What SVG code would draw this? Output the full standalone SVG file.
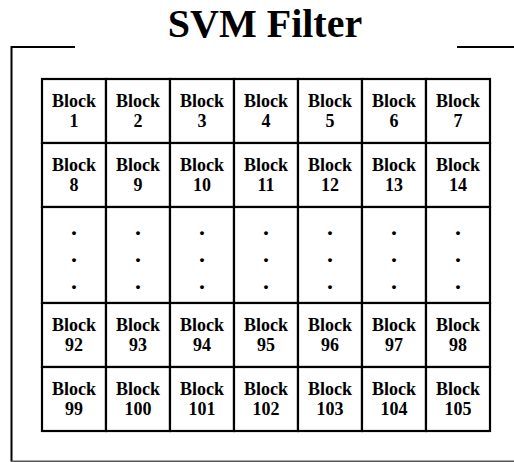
<svg xmlns="http://www.w3.org/2000/svg" width="514" height="462" viewBox="0 0 514 462">
<style>
.t{font-family:"Liberation Serif","Times New Roman",serif;font-weight:bold;font-size:18px;text-anchor:middle;fill:#000}
.d{font-family:"Liberation Serif","Times New Roman",serif;font-weight:bold;font-size:24px;text-anchor:middle;fill:#000}
.title{font-family:"Liberation Serif","Times New Roman",serif;font-weight:bold;font-size:40px;text-anchor:middle;fill:#000}
.c{fill:#fff;stroke:#000;stroke-width:2.2}
.f{fill:none;stroke:#000;stroke-width:2}
</style>
<rect width="514" height="462" fill="#fff"/>
<text class="title" x="265" y="37">SVM Filter</text>
<g id="frame">
<path class="f" d="M75,47 H11.5 V461.5"/>
<path d="M11.5,461.5 H514" fill="none" stroke="#555" stroke-width="2"/>
<path class="f" d="M457,47 H514"/>
</g>
<g id="grid">
<g id="row1">
<g id="b1"><rect class="c" x="42" y="79" width="64" height="64"/><text class="t" x="74" y="107">Block</text><text class="t" x="74" y="127">1</text></g>
<g id="b2"><rect class="c" x="106" y="79" width="64" height="64"/><text class="t" x="138" y="107">Block</text><text class="t" x="138" y="127">2</text></g>
<g id="b3"><rect class="c" x="170" y="79" width="64" height="64"/><text class="t" x="202" y="107">Block</text><text class="t" x="202" y="127">3</text></g>
<g id="b4"><rect class="c" x="234" y="79" width="64" height="64"/><text class="t" x="266" y="107">Block</text><text class="t" x="266" y="127">4</text></g>
<g id="b5"><rect class="c" x="298" y="79" width="64" height="64"/><text class="t" x="330" y="107">Block</text><text class="t" x="330" y="127">5</text></g>
<g id="b6"><rect class="c" x="362" y="79" width="64" height="64"/><text class="t" x="394" y="107">Block</text><text class="t" x="394" y="127">6</text></g>
<g id="b7"><rect class="c" x="426" y="79" width="64" height="64"/><text class="t" x="458" y="107">Block</text><text class="t" x="458" y="127">7</text></g>
</g>
<g id="row2">
<g id="b8"><rect class="c" x="42" y="143" width="64" height="64"/><text class="t" x="74" y="171">Block</text><text class="t" x="74" y="191">8</text></g>
<g id="b9"><rect class="c" x="106" y="143" width="64" height="64"/><text class="t" x="138" y="171">Block</text><text class="t" x="138" y="191">9</text></g>
<g id="b10"><rect class="c" x="170" y="143" width="64" height="64"/><text class="t" x="202" y="171">Block</text><text class="t" x="202" y="191">10</text></g>
<g id="b11"><rect class="c" x="234" y="143" width="64" height="64"/><text class="t" x="266" y="171">Block</text><text class="t" x="266" y="191">11</text></g>
<g id="b12"><rect class="c" x="298" y="143" width="64" height="64"/><text class="t" x="330" y="171">Block</text><text class="t" x="330" y="191">12</text></g>
<g id="b13"><rect class="c" x="362" y="143" width="64" height="64"/><text class="t" x="394" y="171">Block</text><text class="t" x="394" y="191">13</text></g>
<g id="b14"><rect class="c" x="426" y="143" width="64" height="64"/><text class="t" x="458" y="171">Block</text><text class="t" x="458" y="191">14</text></g>
</g>
<g id="rowdots">
<g id="d1"><rect class="c" x="42" y="207" width="64" height="96"/><text class="d" x="74" y="235">.</text><text class="d" x="74" y="262">.</text><text class="d" x="74" y="289">.</text></g>
<g id="d2"><rect class="c" x="106" y="207" width="64" height="96"/><text class="d" x="138" y="235">.</text><text class="d" x="138" y="262">.</text><text class="d" x="138" y="289">.</text></g>
<g id="d3"><rect class="c" x="170" y="207" width="64" height="96"/><text class="d" x="202" y="235">.</text><text class="d" x="202" y="262">.</text><text class="d" x="202" y="289">.</text></g>
<g id="d4"><rect class="c" x="234" y="207" width="64" height="96"/><text class="d" x="266" y="235">.</text><text class="d" x="266" y="262">.</text><text class="d" x="266" y="289">.</text></g>
<g id="d5"><rect class="c" x="298" y="207" width="64" height="96"/><text class="d" x="330" y="235">.</text><text class="d" x="330" y="262">.</text><text class="d" x="330" y="289">.</text></g>
<g id="d6"><rect class="c" x="362" y="207" width="64" height="96"/><text class="d" x="394" y="235">.</text><text class="d" x="394" y="262">.</text><text class="d" x="394" y="289">.</text></g>
<g id="d7"><rect class="c" x="426" y="207" width="64" height="96"/><text class="d" x="458" y="235">.</text><text class="d" x="458" y="262">.</text><text class="d" x="458" y="289">.</text></g>
</g>
<g id="row4">
<g id="b92"><rect class="c" x="42" y="303" width="64" height="64"/><text class="t" x="74" y="331">Block</text><text class="t" x="74" y="351">92</text></g>
<g id="b93"><rect class="c" x="106" y="303" width="64" height="64"/><text class="t" x="138" y="331">Block</text><text class="t" x="138" y="351">93</text></g>
<g id="b94"><rect class="c" x="170" y="303" width="64" height="64"/><text class="t" x="202" y="331">Block</text><text class="t" x="202" y="351">94</text></g>
<g id="b95"><rect class="c" x="234" y="303" width="64" height="64"/><text class="t" x="266" y="331">Block</text><text class="t" x="266" y="351">95</text></g>
<g id="b96"><rect class="c" x="298" y="303" width="64" height="64"/><text class="t" x="330" y="331">Block</text><text class="t" x="330" y="351">96</text></g>
<g id="b97"><rect class="c" x="362" y="303" width="64" height="64"/><text class="t" x="394" y="331">Block</text><text class="t" x="394" y="351">97</text></g>
<g id="b98"><rect class="c" x="426" y="303" width="64" height="64"/><text class="t" x="458" y="331">Block</text><text class="t" x="458" y="351">98</text></g>
</g>
<g id="row5">
<g id="b99"><rect class="c" x="42" y="367" width="64" height="64"/><text class="t" x="74" y="395">Block</text><text class="t" x="74" y="415">99</text></g>
<g id="b100"><rect class="c" x="106" y="367" width="64" height="64"/><text class="t" x="138" y="395">Block</text><text class="t" x="138" y="415">100</text></g>
<g id="b101"><rect class="c" x="170" y="367" width="64" height="64"/><text class="t" x="202" y="395">Block</text><text class="t" x="202" y="415">101</text></g>
<g id="b102"><rect class="c" x="234" y="367" width="64" height="64"/><text class="t" x="266" y="395">Block</text><text class="t" x="266" y="415">102</text></g>
<g id="b103"><rect class="c" x="298" y="367" width="64" height="64"/><text class="t" x="330" y="395">Block</text><text class="t" x="330" y="415">103</text></g>
<g id="b104"><rect class="c" x="362" y="367" width="64" height="64"/><text class="t" x="394" y="395">Block</text><text class="t" x="394" y="415">104</text></g>
<g id="b105"><rect class="c" x="426" y="367" width="64" height="64"/><text class="t" x="458" y="395">Block</text><text class="t" x="458" y="415">105</text></g>
</g>
</g>
</svg>
